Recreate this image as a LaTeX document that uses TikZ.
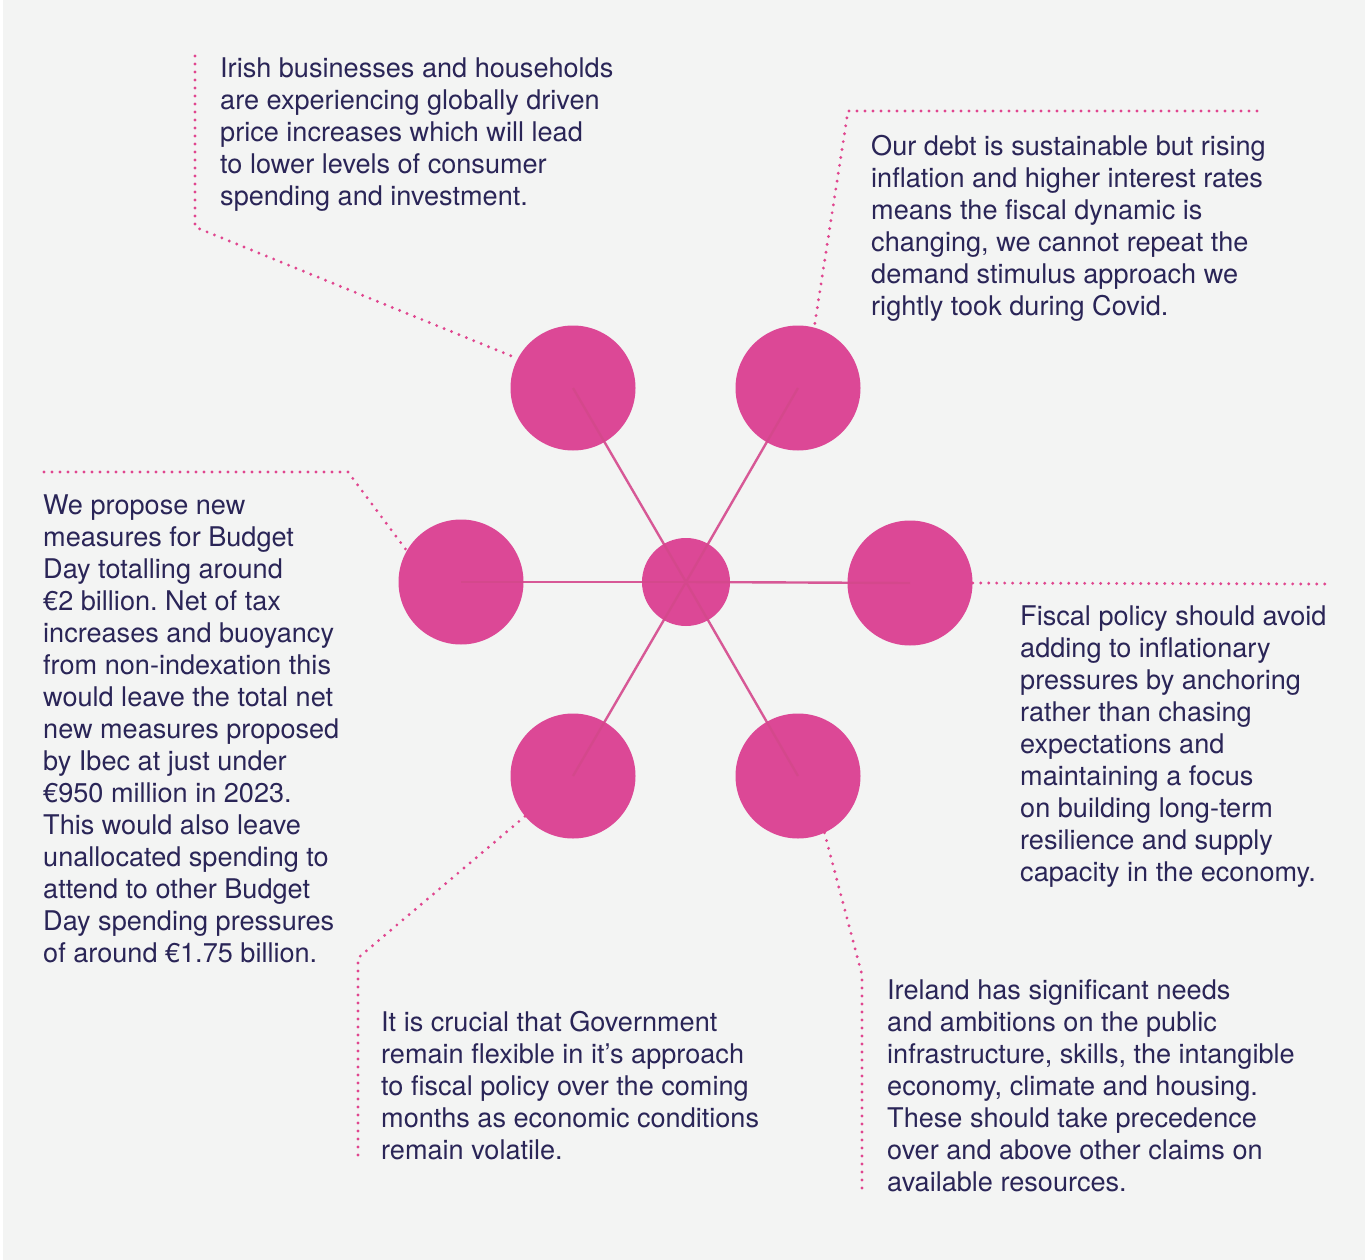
\documentclass[tikz,border=0pt]{standalone}
\usepackage{fontspec}
\setmainfont{TeX Gyre Heros}
\frenchspacing

\definecolor{petalpink}{HTML}{DC4896}
\definecolor{spokepink}{HTML}{D4488C}
\definecolor{dotpink}{HTML}{E0468F}
\definecolor{ink}{HTML}{2A2557}
\definecolor{paper}{HTML}{F3F4F3}

\begin{document}
\begin{tikzpicture}[x=1pt,y=-1pt]
\tikzstyle{every node}+=[inner sep=0pt]
\tikzstyle{petal}=[circle,fill=petalpink,minimum size=125pt]
\tikzstyle{spoke}=[draw=spokepink,line width=2.4pt,opacity=0.9]
\tikzstyle{leader}=[draw=dotpink,line width=3.2pt,line cap=round,dash pattern=on 0pt off 8pt]
\tikzstyle{blurb}=[anchor=north west,align=left,text=ink,font=\fontsize{27.1}{32}\selectfont]
% page
\fill[white] (0,0) rectangle (1365,1260);
\fill[paper] (3,0) rectangle (1365,1260);
\useasboundingbox (0,0) rectangle (1365,1260);
% hub and petals
\node[circle,fill=petalpink,minimum size=88pt] (hub) at (686,582) {};
\node[petal] (pTL) at (573,388) {};
\node[petal] (pTR) at (798,388) {};
\node[petal] (pL) at (461,582) {};
\node[petal] (pR) at (910,583) {};
\node[petal] (pBL) at (573,776) {};
\node[petal] (pBR) at (798,776) {};
\foreach \p in {pTL,pTR,pL,pR,pBL,pBR}
  \draw[spoke] (hub.center) -- (\p.center);
% leader corners
\coordinate (aTL) at (195,56);
\coordinate (bTL) at (195,227);
\coordinate (aTR) at (1257,111);
\coordinate (bTR) at (848,111);
\coordinate (aL) at (44,472);
\coordinate (bL) at (348,472);
\coordinate (aR) at (1325,584);
\coordinate (bBL) at (358,958);
\coordinate (aBL) at (358,1157);
\coordinate (bBR) at (862,975);
\coordinate (aBR) at (862,1193);
\draw[leader] (aTL) -- (bTL) -- (pTL.152);
\draw[leader] (aTR) -- (bTR) -- (pTR.75);
\draw[leader] (aL) -- (bL) -- (pL.150);
\draw[leader] (pR.east) -- (aR);
\draw[leader] (pBL.220) -- (bBL) -- (aBL);
\draw[leader] (pBR.295) -- (bBR) -- (aBR);
% texts
\node[blurb] (tTL) at (220,58) {Irish businesses and households\\are experiencing globally driven\\price increases which will lead\\to lower levels of consumer\\spending and investment.};
\node[blurb] (tTR) at (871,135) {Our debt is sustainable but rising\\inflation and higher interest rates\\means the fiscal dynamic is\\changing, we cannot repeat the\\demand stimulus approach we\\rightly took during Covid.};
\node[blurb] (tL) at (43,495) {We propose new\\measures for Budget\\Day totalling around\\€2 billion. Net of tax\\increases and buoyancy\\from non-indexation this\\would leave the total net\\new measures proposed\\by Ibec at just under\\€950 million in 2023.\\This would also leave\\unallocated spending to\\attend to other Budget\\Day spending pressures\\of around €1.75 billion.};
\node[blurb] (tR) at (1020,606) {Fiscal policy should avoid\\adding to inflationary\\pressures by anchoring\\rather than chasing\\expectations and\\maintaining a focus\\on building long-term\\resilience and supply\\capacity in the economy.};
\node[blurb] (tBL) at (381,1011) {It is crucial that Government\\remain flexible in it’s approach\\to fiscal policy over the coming\\months as economic conditions\\remain volatile.};
\node[blurb] (tBR) at (887,979) {Ireland has significant needs\\and ambitions on the public\\infrastructure, skills, the intangible\\economy, climate and housing.\\These should take precedence\\over and above other claims on\\available resources.};
\end{tikzpicture}
\end{document}
